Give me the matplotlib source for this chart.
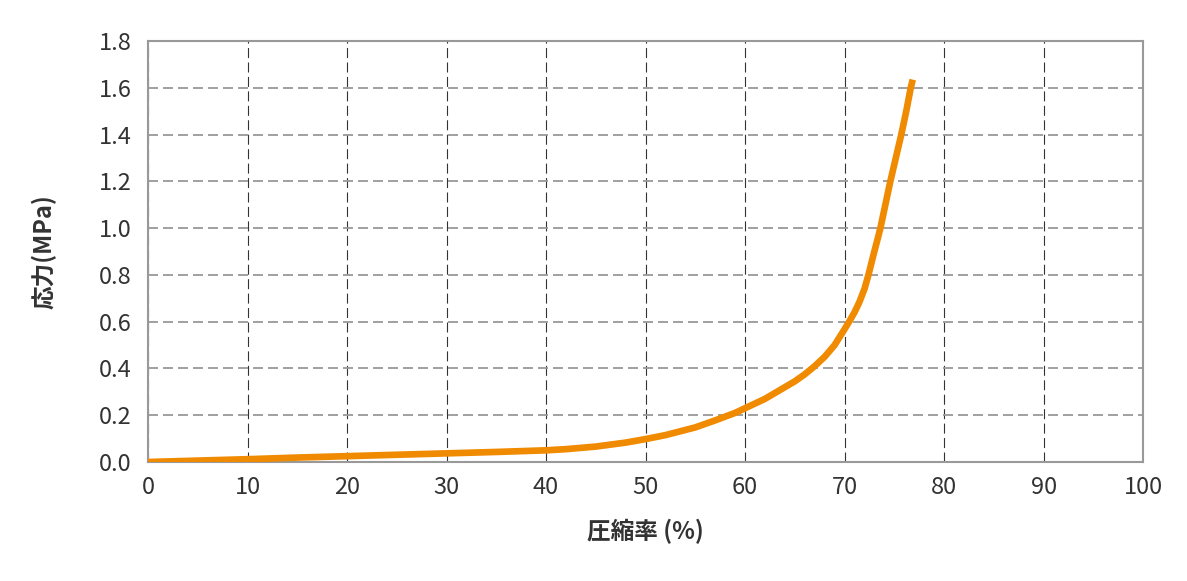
import matplotlib
matplotlib.use("Agg")
import matplotlib.pyplot as plt

plt.rcParams['font.family'] = ['Noto Sans CJK JP', 'DejaVu Sans']
plt.rcParams['lines.scale_dashes'] = False

compression = [0, 5, 10, 15, 20, 25, 30, 35, 40, 42, 45, 48, 50, 52, 55, 57, 59, 61, 62, 63, 64,
               65, 66, 67, 68, 69, 70, 70.5, 71, 71.5, 72, 72.4, 72.9, 73.3, 73.6, 74.1, 74.6,
               75.15, 75.7, 76.2, 76.65, 76.85]
stress = [0, 0.006, 0.012, 0.019, 0.025, 0.031, 0.037, 0.043, 0.05, 0.055, 0.066, 0.083, 0.098,
          0.115, 0.148, 0.178, 0.21, 0.25, 0.27, 0.295, 0.32, 0.345, 0.375, 0.41, 0.45, 0.5,
          0.568, 0.603, 0.64, 0.685, 0.74, 0.8, 0.885, 0.95, 1.0, 1.1, 1.2, 1.3, 1.4, 1.5, 1.6,
          1.635]
x_ticks = list(range(0, 101, 10))
y_ticks = [0.0, 0.2, 0.4, 0.6, 0.8, 1.0, 1.2, 1.4, 1.6, 1.8]
x_label = "圧縮率 (%)"
y_label = "応力(MPa)"

fig = plt.figure(figsize=(11.87, 5.81), dpi=100)
ax = fig.add_axes([0.1247, 0.2048, 0.963 - 0.1247, 0.9294 - 0.2048])

ax.plot(compression, stress, color="#F08A00", lw=4.8, solid_capstyle="butt",
        solid_joinstyle="round", zorder=3)

ax.set_xlim(0, 100)
ax.set_ylim(0, 1.8)
ax.set_xticks(x_ticks)
ax.set_yticks(y_ticks)
ax.set_yticklabels([f"{v:.1f}" for v in y_ticks])
ax.grid(True, axis="y", color="#999999", linestyle=(0, (7.2, 3.6)), lw=1.3)
ax.grid(True, axis="x", color="#333333", linestyle=(0, (7.2, 3.2)), lw=0.8)
for s in ax.spines.values():
    s.set_color("#999999")
    s.set_linewidth(1.5)
ax.tick_params(axis="y", length=0, labelsize=17, colors="#333333", pad=12)
ax.tick_params(axis="x", length=0, labelsize=17, colors="#333333", pad=10)
ax.set_xlabel(x_label, fontsize=17, fontweight="bold", color="#333333", labelpad=14)
ax.set_ylabel(y_label, fontsize=17, fontweight="bold", color="#333333", labelpad=30)

fig.savefig("out.png", dpi=100)
